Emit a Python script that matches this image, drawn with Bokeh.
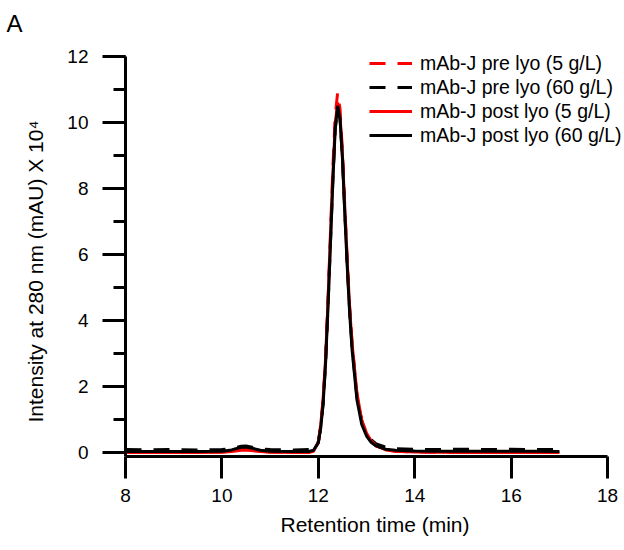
from bokeh.plotting import figure
from bokeh.models import (Range1d, SingleIntervalTicker, Legend, LegendItem, Title)
from bokeh.embed import file_html
from bokeh.resources import INLINE

# Retention time (min)
time_min = [8.0, 8.5, 9.0, 9.5, 10.0, 10.2, 10.4, 10.5, 10.6, 10.8, 11.0, 11.5, 11.8, 11.9,
            12.0, 12.05, 12.1, 12.15, 12.2, 12.25, 12.3, 12.35, 12.4, 12.45, 12.5, 12.55,
            12.6, 12.65, 12.7, 12.8, 12.9, 13.0, 13.1, 13.2, 13.4, 13.6, 14.0, 14.5, 15.0,
            15.5, 16.0, 16.5, 17.0]

# Intensity at 280 nm (mAU) x 10^4
pre_5 = [0.01, 0.01, 0.01, 0.01, 0.02, 0.04, 0.09, 0.10, 0.08, 0.04, 0.02, 0.01, 0.01, 0.05,
         0.30, 0.80, 1.60, 2.85, 4.60, 6.60, 8.60, 10.20, 10.90, 10.40, 9.10, 7.40,
         5.80, 4.40, 3.30, 1.75, 0.95, 0.55, 0.33, 0.20, 0.08, 0.04, 0.02, 0.01, 0.01,
         0.01, 0.01, 0.01, 0.01]
pre_60 = [0.09, 0.08, 0.09, 0.08, 0.09, 0.12, 0.19, 0.20, 0.17, 0.11, 0.09, 0.08, 0.09, 0.12,
          0.33, 0.78, 1.50, 2.70, 4.40, 6.30, 8.20, 9.80, 10.45, 10.10, 8.90, 7.25,
          5.65, 4.30, 3.20, 1.70, 0.95, 0.58, 0.38, 0.26, 0.16, 0.12, 0.10, 0.09, 0.10,
          0.09, 0.10, 0.09, 0.09]
post_5 = [0.00, 0.00, 0.00, 0.00, 0.01, 0.03, 0.07, 0.08, 0.06, 0.03, 0.01, 0.00, 0.00, 0.04,
          0.32, 0.85, 1.65, 2.85, 4.55, 6.45, 8.35, 9.95, 10.60, 10.20, 9.00, 7.35,
          5.75, 4.35, 3.30, 1.80, 0.98, 0.58, 0.34, 0.20, 0.08, 0.04, 0.02, 0.01, 0.00,
          0.00, 0.00, 0.00, 0.00]
post_60 = [0.03, 0.03, 0.03, 0.03, 0.04, 0.08, 0.16, 0.17, 0.14, 0.07, 0.04, 0.03, 0.03, 0.07,
           0.30, 0.75, 1.50, 2.70, 4.40, 6.30, 8.20, 9.80, 10.50, 10.10, 8.90, 7.20,
           5.60, 4.20, 3.10, 1.60, 0.85, 0.50, 0.30, 0.20, 0.10, 0.07, 0.05, 0.04, 0.04,
           0.04, 0.04, 0.04, 0.03]

legend_labels = ["mAb-J pre lyo (5 g/L)", "mAb-J pre lyo (60 g/L)",
                 "mAb-J post lyo (5 g/L)", "mAb-J post lyo (60 g/L)"]
x_title = "Retention time (min)"
y_title = "Intensity at 280 nm (mAU) X 10\u2074"

FONT = "Liberation Sans"

p = figure(width=624, height=548, output_backend="svg", toolbar_location=None,
           x_range=Range1d(8, 18.35), y_range=Range1d(-0.12, 12.48),
           min_border_left=125, min_border_right=0, min_border_top=40, min_border_bottom=92,
           title="A")
p.outline_line_color = None
p.xgrid.grid_line_color = None
p.ygrid.grid_line_color = None
p.title.text_font = FONT
p.title.text_font_size = "24px"
p.title.text_font_style = "normal"
p.title.text_color = "#000000"
p.title.align = "left"
p.title.offset = -119
p.title.standoff = 8

r1 = p.line(time_min, pre_5, line_color="#ff0000", line_width=3, line_dash="16 12")
r2 = p.line(time_min, pre_60, line_color="#000000", line_width=3, line_dash="16 12")
r3 = p.line(time_min, post_5, line_color="#ff0000", line_width=3)
r4 = p.line(time_min, post_60, line_color="#000000", line_width=3)

xa = p.xaxis[0]
xa.ticker = SingleIntervalTicker(interval=2, num_minor_ticks=0)
xa.axis_label = x_title
xa.bounds = (8, 18)
ya = p.yaxis[0]
ya.ticker = SingleIntervalTicker(interval=2, num_minor_ticks=2)
ya.bounds = (-0.12, 12)

for ax in (xa, ya):
    ax.axis_line_width = 3
    ax.major_tick_line_width = 3
    ax.minor_tick_line_width = 3
    ax.major_tick_in = 0
    ax.minor_tick_in = 0
    ax.major_label_text_font = FONT
    ax.major_label_text_font_size = "19px"
    ax.major_label_text_color = "#000000"
    ax.axis_label_text_font = FONT
    ax.axis_label_text_font_size = "21px"
    ax.axis_label_text_font_style = "normal"
    ax.axis_label_text_color = "#000000"
xa.major_tick_out = 22
xa.major_label_standoff = 10
xa.axis_label_standoff = 8
ya.major_tick_out = 23
ya.minor_tick_out = 12
ya.major_label_standoff = 14

# y-axis title as a left-side title, starting a little above the frame bottom
p.add_layout(Title(text=y_title, align="left", offset=34, standoff=36,
                   text_font=FONT, text_font_size="21px", text_font_style="normal",
                   text_color="#000000"), "left")

legend = Legend(items=[LegendItem(label=legend_labels[i], renderers=[r])
                       for i, r in enumerate([r1, r2, r3, r4])],
                location=(244, 309), padding=0, margin=0, spacing=0,
                glyph_width=43, glyph_height=24, label_height=24, label_standoff=8,
                label_text_font=FONT, label_text_font_size="19.5px",
                label_text_color="#000000",
                border_line_color=None, background_fill_alpha=0)
p.add_layout(legend)

open("out.html", "w").write(file_html(p, INLINE))
